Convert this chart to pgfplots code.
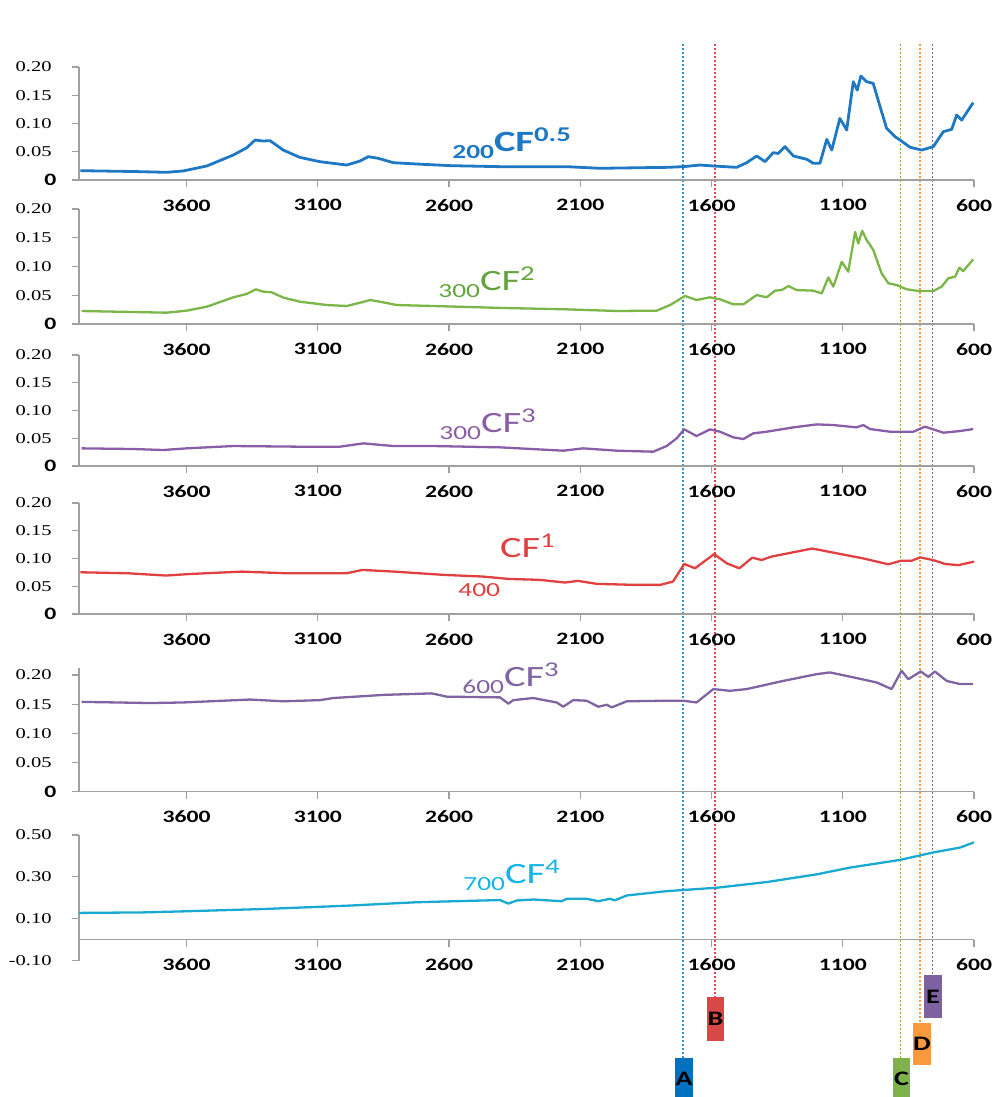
\documentclass[border=0pt]{standalone}
\usepackage{pgfplots}
\pgfplotsset{compat=1.18}
\usepackage{fontspec}
\newfontfamily\tkfont[FakeStretch=1.36]{Carlito}
\newfontfamily\ylfont[FakeStretch=1.37]{Liberation Serif}
\newfontfamily\lbfont[FakeStretch=1.37]{Carlito}

\definecolor{axgray}{HTML}{A0A0A0}
\definecolor{cA}{HTML}{1E78C3}
\definecolor{cB}{HTML}{7AB648}
\definecolor{cC}{HTML}{8A5EA6}
\definecolor{cD}{HTML}{E0403F}
\definecolor{cE}{HTML}{8064A2}
\definecolor{cF}{HTML}{19A9D1}
\definecolor{lB}{HTML}{62A33A}
\definecolor{lF}{HTML}{14B4E8}
\definecolor{gA}{HTML}{0070C0}
\definecolor{gB}{HTML}{D94848}
\definecolor{gC}{HTML}{7FB24A}
\definecolor{gD}{HTML}{F79A3E}
\definecolor{gE}{HTML}{7E62A0}

\newcommand\yl[1]{{\ylfont\fontsize{7.5pt}{8pt}\selectfont #1}}
\pgfplotsset{
  panel/.style={
    scale only axis, width=447.5pt, xmin=600, xmax=4010, x dir=reverse,
    axis y line*=left, axis x line*=bottom,
    axis line style={draw=axgray, line width=0.65pt},
    tick style={draw=axgray, line width=0.65pt},
    major tick length=3.5pt, tick align=outside,
    xtick={600,1100,1600,2100,2600,3100,3600},
    xticklabels={600,1100,1600,2100,2600,3100,3600},
    x tick label style={font=\tkfont\bfseries\fontsize{8.7pt}{9pt}\selectfont, anchor=north, inner sep=0pt, yshift=-6pt},
    y tick label style={anchor=east, inner sep=0pt, xshift=-10pt},
    ytick={0,0.05,0.1,0.15,0.2},
    yticklabels={{\tkfont\bfseries\fontsize{8.7pt}{9pt}\selectfont 0\kern-2.4pt},\yl{0.05},\yl{0.10},\yl{0.15},\yl{0.20}},
    anchor=south west,
  },
  spec/.style={line width=1.15pt, no markers, line join=round},
}
% #1 prefix number, #2 exponent, #3 rise of CF above the prefix baseline
\newcommand\splabel[3][3.5pt]{{\fontsize{10pt}{11pt}\selectfont #2}\raisebox{#1}{\fontsize{14.75pt}{16pt}\selectfont CF\raisebox{5pt}{\fontsize{10.5pt}{11pt}\selectfont #3}}}

\begin{document}
\begin{tikzpicture}
\path (0,0) rectangle (498pt,-548.5pt);

% guide lines
\draw[gA!80!white, line width=0.9pt, dash pattern=on 1pt off 1pt] (341.5pt,-22pt) -- (341.5pt,-529pt);
\draw[gB, line width=0.9pt, dash pattern=on 1pt off 1pt] (357.5pt,-22pt) -- (357.5pt,-498.5pt);
\draw[gC, line width=0.9pt, dash pattern=on 1pt off 1pt] (450.25pt,-22pt) -- (450.25pt,-529pt);
\draw[gD, line width=0.9pt, dash pattern=on 1pt off 1pt] (460pt,-22pt) -- (460pt,-511.5pt);
\draw[gE, line width=0.9pt, dash pattern=on 1pt off 1pt] (466.25pt,-22pt) -- (466.25pt,-487.5pt);

% panel 1
\begin{axis}[panel, at={(39.5pt,-90pt)}, height=56.5pt, ymin=0, ymax=0.2]
\addplot[spec, cA, line width=1.4pt] coordinates {
(4005,0.0165) (3800,0.015) (3676,0.0136) (3613,0.016) (3523,0.0248) (3423,0.044) (3371,0.057) (3339,0.0708) (3309,0.069) (3282,0.0696) (3232,0.053) (3168,0.040) (3092,0.0324) (2990,0.0265) (2939,0.0336) (2908,0.0413) (2870,0.0384) (2812,0.0306) (2723,0.0283) (2596,0.0254) (2406,0.0236) (2152,0.0236) (2025,0.0207) (1771,0.0224) (1708,0.0236) (1644,0.0265) (1593,0.0248) (1504,0.0224) (1466,0.0307) (1428,0.0425) (1396,0.0325) (1365,0.0484) (1346,0.047) (1320,0.059) (1288,0.0425) (1237,0.0366) (1212,0.0295) (1187,0.0295) (1161,0.072) (1142,0.053) (1111,0.109) (1085,0.0885) (1060,0.174) (1045,0.159) (1031,0.184) (1009,0.174) (984,0.171) (958,0.13) (933,0.0915) (901,0.0767) (882,0.0708) (844,0.058) (799,0.053) (755,0.059) (717,0.0855) (685,0.0897) (666,0.115) (647,0.106) (603,0.137)
};
\end{axis}

% panel 2
\begin{axis}[panel, at={(39.5pt,-162pt)}, height=57.5pt, ymin=0, ymax=0.2]
\addplot[spec, cB] coordinates {
(4000,0.0226) (3676,0.0197) (3600,0.0232) (3523,0.0301) (3422,0.0464) (3371,0.0522) (3336,0.0603) (3308,0.0562) (3276,0.0551) (3231,0.0458) (3168,0.0388) (3066,0.033) (2990,0.0313) (2939,0.037) (2901,0.0417) (2863,0.0388) (2800,0.033) (2660,0.0313) (2406,0.028) (2152,0.0255) (1961,0.0226) (1809,0.0232) (1758,0.033) (1701,0.0487) (1657,0.0417) (1606,0.0464) (1568,0.0429) (1517,0.0342) (1479,0.0342) (1428,0.0504) (1390,0.0464) (1358,0.058) (1333,0.059) (1307,0.066) (1276,0.059) (1212,0.058) (1180,0.0533) (1155,0.081) (1136,0.065) (1104,0.108) (1079,0.091) (1053,0.16) (1041,0.14) (1026,0.162) (1009,0.146) (984,0.129) (952,0.088) (926,0.0708) (895,0.0678) (856,0.0603) (812,0.0574) (755,0.0574) (723,0.065) (698,0.0795) (672,0.0823) (656,0.098) (641,0.092) (603,0.1125)
};
\end{axis}

% panel 3
\begin{axis}[panel, at={(39.5pt,-233pt)}, height=55.5pt, ymin=0, ymax=0.2]
\addplot[spec, cC] coordinates {
(4000,0.0318) (3803,0.0306) (3689,0.0288) (3600,0.0318) (3422,0.036) (3168,0.0348) (3016,0.0348) (2927,0.0408) (2812,0.036) (2660,0.036) (2406,0.0336) (2165,0.0276) (2089,0.0318) (1961,0.0276) (1822,0.0258) (1771,0.036) (1733,0.0498) (1704,0.066) (1657,0.054) (1606,0.066) (1568,0.0618) (1517,0.0516) (1479,0.0486) (1441,0.0588) (1390,0.0618) (1288,0.0696) (1199,0.075) (1136,0.0738) (1047,0.0696) (1022,0.0738) (996,0.0666) (920,0.0618) (831,0.0618) (787,0.0708) (755,0.066) (717,0.06) (653,0.063) (603,0.0666)
};
\end{axis}

% panel 4
\begin{axis}[panel, at={(39.5pt,-307pt)}, height=55.5pt, ymin=0, ymax=0.2]
\addplot[spec, cD] coordinates {
(4005,0.0752) (3824,0.0734) (3679,0.0693) (3583,0.0722) (3389,0.0764) (3220,0.0734) (2991,0.0734) (2930,0.0794) (2810,0.0764) (2617,0.0704) (2472,0.0675) (2375,0.0633) (2254,0.0615) (2158,0.0567) (2109,0.0597) (2037,0.0543) (1892,0.0525) (1795,0.0525) (1747,0.0585) (1704,0.0901) (1663,0.0824) (1590,0.108) (1542,0.0913) (1494,0.0824) (1445,0.1015) (1409,0.0973) (1373,0.1033) (1216,0.118) (1119,0.109) (1023,0.1003) (926,0.0895) (878,0.0961) (837,0.0961) (805,0.102) (757,0.0973) (709,0.0901) (660,0.088) (600,0.0943)
};
\end{axis}

% panel 5
\begin{axis}[panel, at={(39.5pt,-395.75pt)}, height=61.75pt, ymin=0, ymax=0.2122]
\addplot[spec, cE] coordinates {
(4000,0.154) (3866,0.153) (3739,0.152) (3613,0.153) (3358,0.158) (3231,0.155) (3092,0.157) (3041,0.1606) (2850,0.166) (2666,0.1686) (2609,0.163) (2406,0.1617) (2374,0.151) (2355,0.157) (2279,0.1606) (2190,0.153) (2165,0.1457) (2127,0.157) (2076,0.156) (2031,0.1457) (1999,0.149) (1980,0.1446) (1923,0.155) (1771,0.156) (1708,0.156) (1657,0.153) (1593,0.176) (1530,0.173) (1466,0.176) (1327,0.19) (1199,0.2017) (1149,0.2046) (1047,0.1949) (971,0.1874) (914,0.176) (876,0.2074) (850,0.193) (803,0.2063) (774,0.197) (749,0.2063) (704,0.19) (653,0.1846) (603,0.1846)
};
\end{axis}

% panel 6
\begin{axis}[panel, at={(39.5pt,-480.25pt)}, height=62.75pt, ymin=-0.1, ymax=0.5,
  axis x line*=middle,
  ytick={-0.1,0.1,0.3,0.5}, yticklabels={\yl{-0.10},\yl{0.10},\yl{0.30},\yl{0.50}}]
\addplot[spec, cF] coordinates {
(4010,0.1275) (3765,0.130) (3613,0.135) (3295,0.1467) (2977,0.1627) (2723,0.1787) (2406,0.189) (2374,0.172) (2342,0.187) (2279,0.1916) (2171,0.1835) (2152,0.195) (2076,0.195) (2031,0.1835) (1987,0.195) (1968,0.188) (1923,0.211) (1771,0.2316) (1580,0.248) (1390,0.275) (1199,0.312) (1072,0.3443) (882,0.381) (755,0.4166) (653,0.44) (600,0.4648)
};
\end{axis}

% sample labels
\node[anchor=base west, inner sep=0pt, text=cA, font=\lbfont\bfseries] at (226pt,-79pt) {\splabel{200}{0.5}};
\node[anchor=base west, inner sep=0pt, text=lB, font=\lbfont] at (219pt,-148.5pt) {\splabel{300}{2}};
\node[anchor=base west, inner sep=0pt, text=cC, font=\lbfont] at (219.5pt,-219.5pt) {\splabel{300}{3}};
\node[anchor=base west, inner sep=0pt, text=cD, font=\lbfont] at (229pt,-298pt) {\splabel[19.5pt]{400}{1}};
\node[anchor=base west, inner sep=0pt, text=cE, font=\lbfont] at (231pt,-346.5pt) {\splabel{600}{3}};
\node[anchor=base west, inner sep=0pt, text=lF, font=\lbfont] at (231.5pt,-445pt) {\splabel{700}{4}};

% band boxes
\tikzset{bx/.style={inner sep=0pt, font=\tkfont\bfseries\fontsize{10.3pt}{11pt}\selectfont}}
\fill[gA] (337.5pt,-529pt) rectangle (346.5pt,-548.5pt);
\node[bx] at (342pt,-539.5pt) {A};
\fill[gB] (353.5pt,-498.5pt) rectangle (362pt,-520.5pt);
\node[bx] at (357.75pt,-509.5pt) {B};
\fill[gC] (446.5pt,-529pt) rectangle (455pt,-548.5pt);
\node[bx] at (450.75pt,-539.5pt) {C};
\fill[gD] (456.5pt,-511.5pt) rectangle (465.5pt,-532.5pt);
\node[bx] at (461pt,-522pt) {D};
\fill[gE] (462pt,-487.5pt) rectangle (471pt,-509pt);
\node[bx] at (466.5pt,-498.25pt) {E};
\end{tikzpicture}
\end{document}
